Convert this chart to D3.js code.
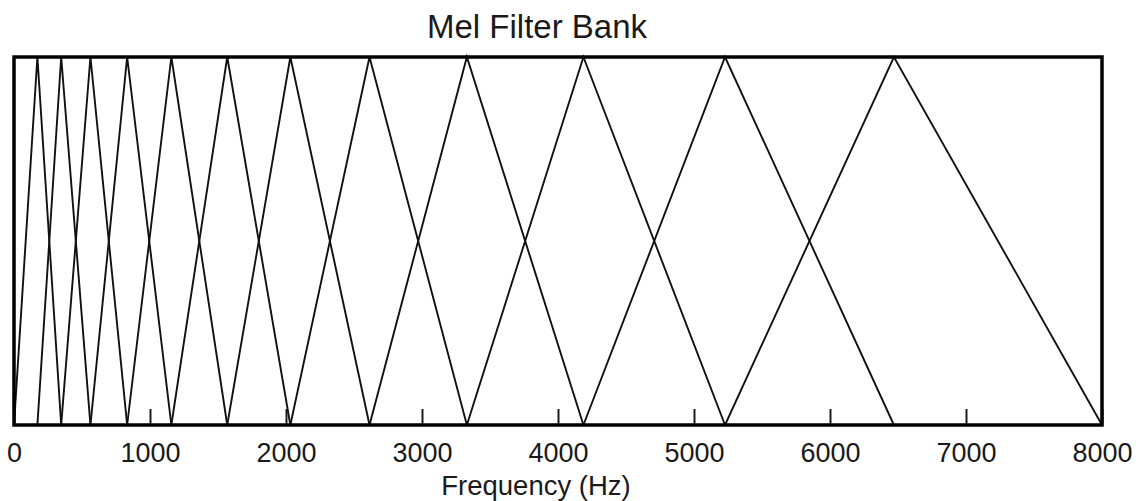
<!DOCTYPE html>
<html>
<head>
<meta charset="utf-8">
<script src="https://cdn.jsdelivr.net/npm/d3@7"></script>
<style>
  html, body { margin: 0; padding: 0; background: #fff; }
  text { font-family: "Liberation Sans", Arial, sans-serif; fill: #1a1a1a; }
</style>
</head>
<body>
<div id="chart"></div>
<script>
// filter edge frequencies (Hz): filter i spans edges[i] .. edges[i+2], peak at edges[i+1]
var edges = [0, 172, 347, 562, 832, 1157, 1568, 2032, 2614, 3330, 4187, 5228, 6470, 8000];
var xTicks = [0, 1000, 2000, 3000, 4000, 5000, 6000, 7000, 8000];
var title = 'Mel Filter Bank';
var xLabel = 'Frequency (Hz)';

var width = 1139, height = 501;
var margin = { left: 14, right: 37, top: 57, bottom: 76 };

var svg = d3.select('#chart').append('svg')
  .attr('width', width)
  .attr('height', height);

var x = d3.scaleLinear().domain([0, 8000]).range([margin.left, width - margin.right]);
var y = d3.scaleLinear().domain([0, 1]).range([height - margin.bottom, margin.top]);

// 三角形滤波器
var filters = [];
for (var i = 0; i + 2 < edges.length; i++) {
  filters.push([[edges[i], 0], [edges[i + 1], 1], [edges[i + 2], 0]]);
}
var line = d3.line()
  .x(function (d) { return x(d[0]); })
  .y(function (d) { return y(d[1]); });

svg.append('g')
  .classed('filters', true)
  .selectAll('path')
  .data(filters)
  .enter()
  .append('path')
  .attr('d', line)
  .attr('fill', 'none')
  .attr('stroke', '#111')
  .attr('stroke-width', 1.9)
  .attr('stroke-linejoin', 'miter');

// x 轴 (ticks pointing inward)
var axis = svg.append('g')
  .attr('transform', 'translate(0,' + y(0) + ')')
  .call(d3.axisBottom(x).tickValues(xTicks).tickSizeInner(-16).tickSizeOuter(0).tickFormat(d3.format('d')));
axis.select('.domain').remove();
axis.selectAll('.tick line').attr('stroke', '#111').attr('stroke-width', 1.9);
axis.selectAll('.tick text')
  .attr('y', 36.5)
  .attr('dy', 0)
  .attr('font-size', 27)
  .attr('font-family', '"Liberation Sans", Arial, sans-serif')
  .attr('fill', '#1a1a1a');

// frame
svg.append('rect')
  .attr('x', x(0))
  .attr('y', y(1))
  .attr('width', x(8000) - x(0))
  .attr('height', y(0) - y(1))
  .attr('fill', 'none')
  .attr('stroke', '#000')
  .attr('stroke-width', 3.5);

svg.append('text')
  .attr('x', 537)
  .attr('y', 38)
  .attr('text-anchor', 'middle')
  .attr('font-size', 33)
  .text(title);

svg.append('text')
  .attr('x', 536)
  .attr('y', 495)
  .attr('text-anchor', 'middle')
  .attr('font-size', 27.5)
  .text(xLabel);
</script>
</body>
</html>
